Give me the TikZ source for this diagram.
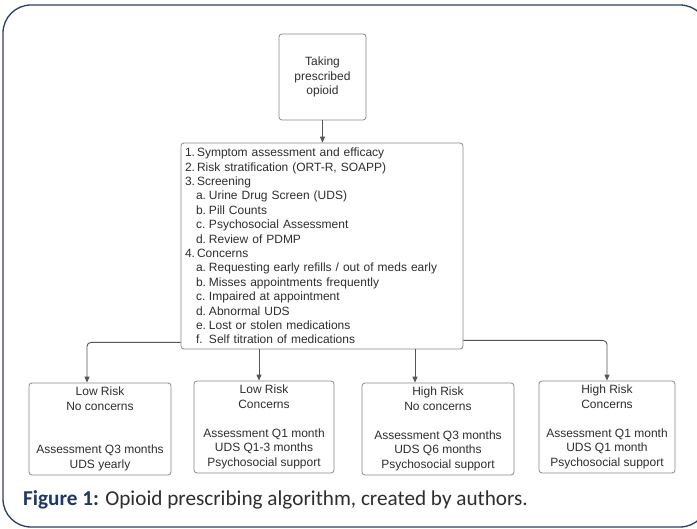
\documentclass[tikz,border=0pt]{standalone}
\usepackage{fontspec}
\setmainfont{Liberation Sans}
\newfontfamily\capfont{Carlito}
\usetikzlibrary{arrows.meta,calc}
\definecolor{navy}{HTML}{2B3F63}
\definecolor{boxgray}{HTML}{8A8A8A}
\definecolor{conngray}{HTML}{555555}
\definecolor{txtgray}{HTML}{2E2E2E}
\definecolor{capnavy}{HTML}{1F3864}
\definecolor{capgray}{HTML}{2E2E2E}
\newcommand\lnum[1]{\makebox[12pt][l]{#1}}
\newcommand\lsub[1]{\hspace*{11pt}\makebox[13pt][l]{#1}}
\begin{document}
\begin{tikzpicture}[x=1pt,y=-1pt,
 box/.style={draw=boxgray, line width=0.8pt, rounded corners=3pt, fill=white, inner sep=0pt, text=txtgray, font=\fontsize{12}{14.5}\selectfont, align=center},
 conn/.style={draw=conngray, line width=0.9pt, -{Triangle[length=6pt,width=5pt]}, rounded corners=4pt}]
\useasboundingbox (0,0) rectangle (697,529);
\fill[white] (0,0) rectangle (697,529);
\draw[navy, line width=1.3pt, rounded corners=28pt] (3,5) rectangle (708,527);
\node[box, minimum width=87pt, minimum height=86pt] (top) at (322.5,77) {Taking\\prescribed\\opioid};
\node[box, minimum width=282pt, minimum height=206pt, align=left, text width=274pt, font=\fontsize{12}{14.4}\selectfont] (big) at (322,246) {%
\lnum{1.}Symptom assessment and efficacy\\
\lnum{2.}Risk stratification (ORT-R, SOAPP)\\
\lnum{3.}Screening\\
\lsub{a.}Urine Drug Screen (UDS)\\
\lsub{b.}Pill Counts\\
\lsub{c.}Psychosocial Assessment\\
\lsub{d.}Review of PDMP\\
\lnum{4.}Concerns\\
\lsub{a.}Requesting early refills / out of meds early\\
\lsub{b.}Misses appointments frequently\\
\lsub{c.}Impaired at appointment\\
\lsub{d.}Abnormal UDS\\
\lsub{e.}Lost or stolen medications\\
\lsub{f.}Self titration of medications};
\node[box, minimum width=142pt, minimum height=92pt] (b1) at (100,429) {Low Risk\\No concerns\\[14.5pt]\\Assessment Q3 months\\UDS yearly};
\node[box, minimum width=140pt, minimum height=92pt] (b2) at (264,427) {Low Risk\\Concerns\\\\Assessment Q1 month\\UDS Q1-3 months\\Psychosocial support};
\node[box, minimum width=152pt, minimum height=92pt] (b3) at (438,429) {High Risk\\No concerns\\\\Assessment Q3 months\\UDS Q6 months\\Psychosocial support};
\node[box, minimum width=136pt, minimum height=92pt] (b4) at (607,427) {High Risk\\Concerns\\\\Assessment Q1 month\\UDS Q1 month\\Psychosocial support};
\draw[conn] (top.south) -- (top.south |- big.north);
\draw[conn] ([yshift=7pt]big.south west) -| ([xshift=-13pt]b1.north);
\draw[conn] ([yshift=9pt]big.south east) -| (b4.north);
\coordinate (b2n) at ([xshift=-5pt]b2.north);
\draw[conn] (big.south -| b2n) -- (b2n);
\coordinate (b3n) at ([xshift=-23pt]b3.north);
\draw[conn] (big.south -| b3n) -- (b3n);
\node[anchor=base west, inner sep=0pt, font=\capfont\fontsize{21.2}{25}\selectfont, text=capgray] (cap) at (23,506) {\textcolor{capnavy}{\bfseries Figure 1:} Opioid prescribing algorithm, created by authors.};
\end{tikzpicture}
\end{document}
